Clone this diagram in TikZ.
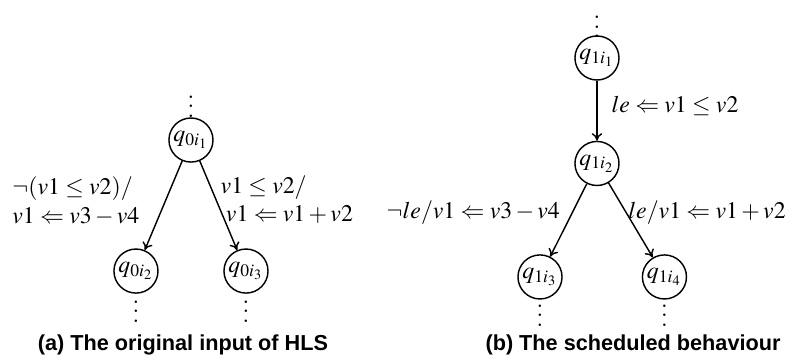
\documentclass[tikz,border=0pt]{standalone}
\usepackage{mathptmx}
\usepackage[no-math]{fontspec}
\setsansfont{Liberation Sans}
\usetikzlibrary{arrows.meta,positioning}

\begin{document}
\begin{tikzpicture}[
    on grid,
    state/.style={circle, draw, line width=0.6pt, minimum size=18.5pt, inner sep=0pt},
    arr/.style={-{To[length=3.2pt,width=4.4pt]}, line width=0.6pt},
    dots/.style={inner sep=0pt},
    lbl/.style={align=left, inner sep=3.33pt},
    subcap/.style={anchor=base, font=\fontsize{9.1pt}{11pt}\sffamily\bfseries},
]
\useasboundingbox (0,0) rectangle (11.794,-5.358);
\node[state] (q0a) at (2.819,-2.067) {$q_{0i_1}$};
\node[state, below left=1.934cm and 0.812cm of q0a] (q0b) {$q_{0i_2}$};
\node[state, below right=1.934cm and 0.812cm of q0a] (q0c) {$q_{0i_3}$};
\node[dots, above=0.6cm of q0a] (q0top) {$\vdots$};
\node[dots, below=0.494cm of q0b] (q0bdots) {$\vdots$};
\node[dots, below=0.494cm of q0c] (q0cdots) {$\vdots$};
\draw[arr] (q0a) -- node[lbl, left, xshift=-6.5pt, yshift=2pt] {$\neg(v1 \le v2)/$\\$v1 \Leftarrow v3 - v4$} (q0b);
\draw[arr] (q0a) -- node[lbl, right, xshift=-2.7pt, yshift=2.5pt] {$v1 \le v2/$\\$\;v1 \Leftarrow v1 + v2$} (q0c);
\node[subcap] (capa) at (2.701,-5.181) {(a) The original input of HLS};

\node[state] (q1a) at (8.812,-0.856) {$q_{1i_1}$};
\node[state, below=1.557cm of q1a] (q1b) {$q_{1i_2}$};
\node[state, below left=1.675cm and 0.841cm of q1b] (q1c) {$q_{1i_3}$};
\node[state, below right=1.675cm and 0.996cm of q1b] (q1d) {$q_{1i_4}$};
\node[dots, above=0.56cm of q1a] (q1top) {$\vdots$};
\node[dots, below=0.465cm of q1c] (q1cdots) {$\vdots$};
\node[dots, below=0.465cm of q1d] (q1ddots) {$\vdots$};
\draw[arr] (q1a) -- node[lbl, right, xshift=2.5pt, yshift=2.2pt] {$le \Leftarrow v1 \le v2$} (q1b);
\draw[arr] (q1b) -- node[lbl, left, yshift=3.4pt] {$\neg le/v1 \Leftarrow v3 - v4$} (q1c);
\draw[arr] (q1b) -- node[lbl, right, xshift=-4.6pt, yshift=3.4pt] {$le/v1 \Leftarrow v1 + v2$} (q1d);
\node[subcap] (capb) at (9.344,-5.181) {(b) The scheduled behaviour};
\end{tikzpicture}
\end{document}
